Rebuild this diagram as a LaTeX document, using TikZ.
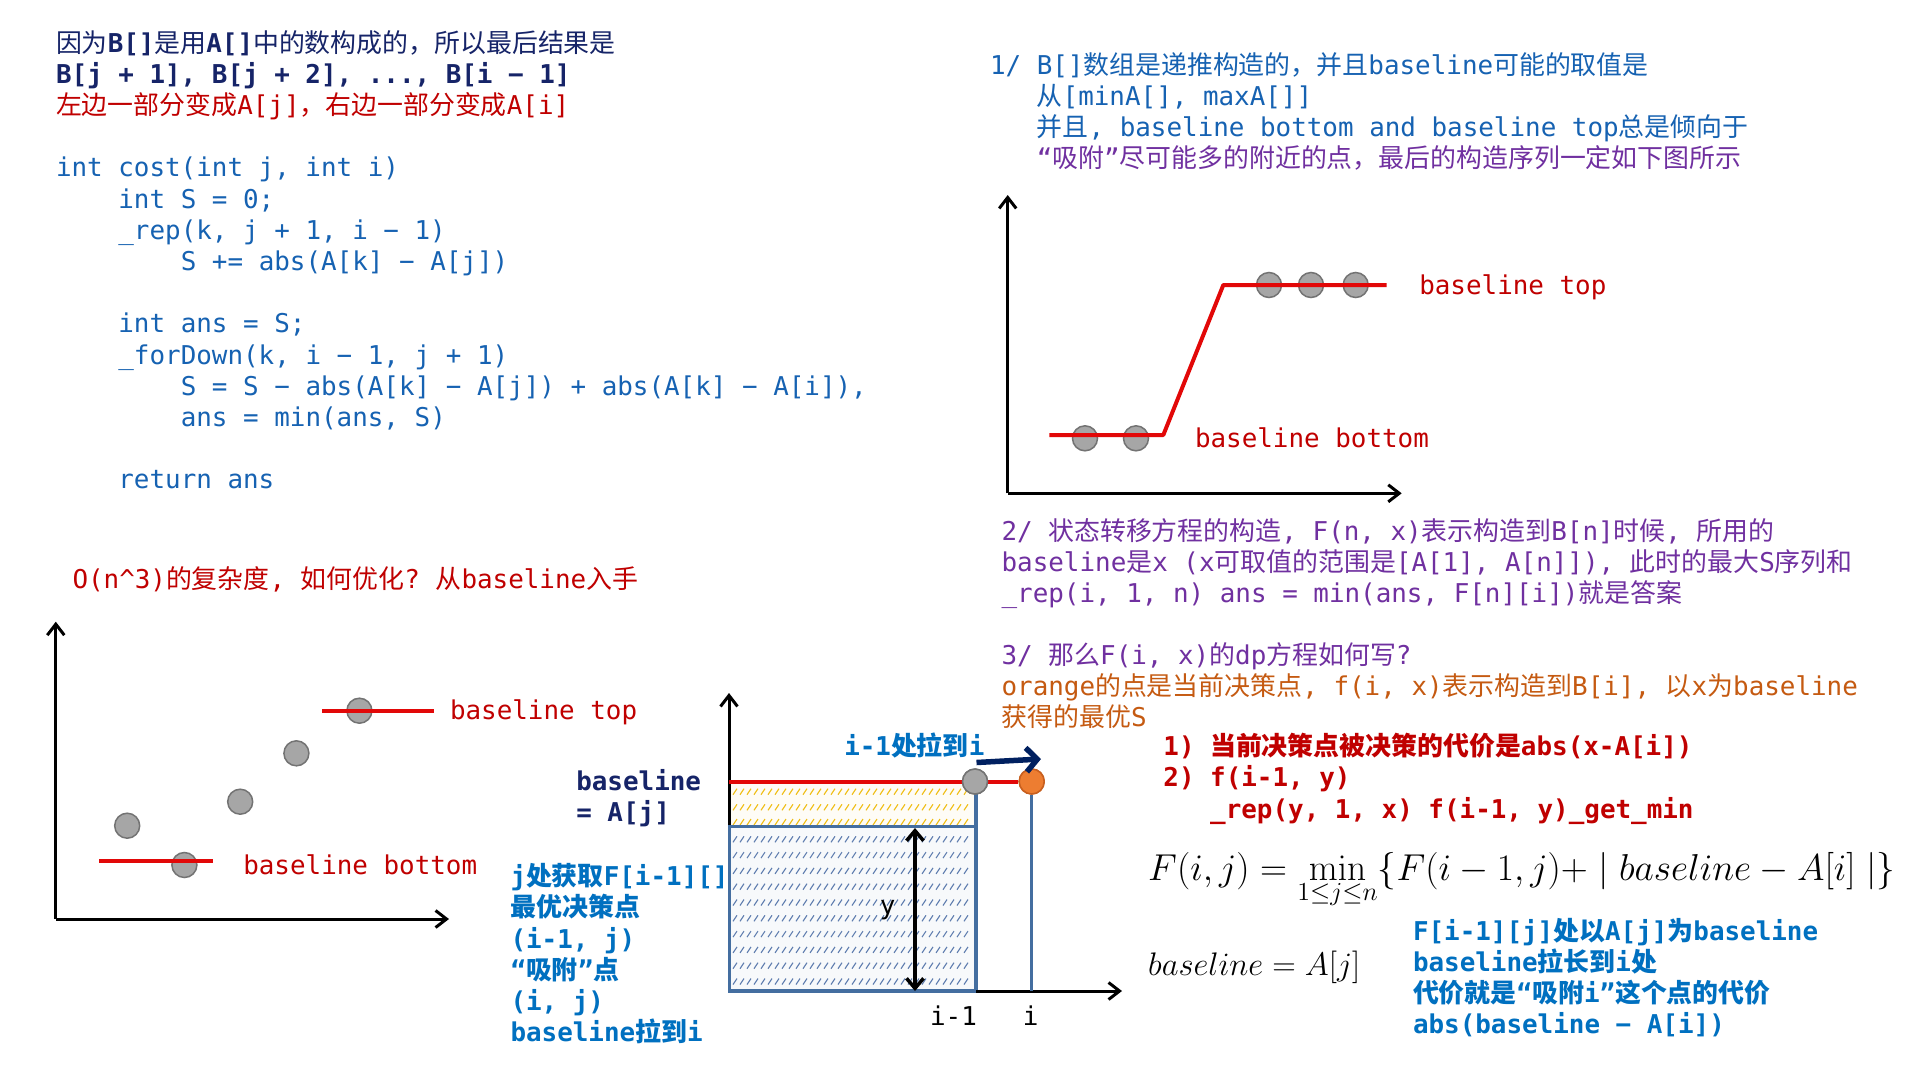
\documentclass[tikz,border=0pt]{standalone}
\usepackage[no-math]{fontspec}
\usepackage{graphicx}
\usetikzlibrary{arrows.meta}
\setmainfont{DejaVu Sans Mono}
\newfontfamily\cjk{Noto Sans CJK SC}
\newcommand\zh[1]{{\cjk #1}}
\newcommand\zhr[1]{{\cjk\mdseries #1}}
\definecolor{navy}{RGB}{22,36,104}
\definecolor{codeblue}{RGB}{22,98,178}
\definecolor{redt}{RGB}{192,0,0}
\definecolor{redl}{RGB}{226,8,8}
\definecolor{purp}{RGB}{112,48,160}
\definecolor{orng}{RGB}{197,90,17}
\definecolor{brblue}{RGB}{0,112,192}
\definecolor{boxblue}{RGB}{68,110,160}
\definecolor{hatchb}{RGB}{95,125,175}
\definecolor{hatchy}{RGB}{240,190,20}
\definecolor{dotgray}{RGB}{166,166,166}
\definecolor{dotedge}{RGB}{115,115,115}
\definecolor{dotorange}{RGB}{237,125,49}
\definecolor{dotoedge}{RGB}{200,95,30}
\definecolor{arrnavy}{RGB}{0,32,96}
\begin{document}
\begin{tikzpicture}[x=1pt,y=-1pt,
  t/.style={anchor=base west,inner sep=0pt,outer sep=0pt,font=\fontsize{25.9}{31.2}\selectfont\frenchspacing},
  tb/.style={t,font=\fontsize{25.9}{31.2}\selectfont\frenchspacing\bfseries},
  axis/.style={line width=3pt,black,-{Straight Barb[length=11pt,width=17pt]}},
  redline/.style={line width=4pt,redl},
  gdot/.style={circle,fill=dotgray,draw=dotedge,line width=1.5pt,minimum size=25pt,inner sep=0pt},
  odot/.style={circle,fill=dotorange,draw=dotoedge,line width=1.5pt,minimum size=25pt,inner sep=0pt},
  hb/.style={hatchb,line width=1.1pt},
  hy/.style={hatchy,line width=1.1pt}]
\fill[white] (0,0) rectangle (1920,1080);
\useasboundingbox (0,0) rectangle (1920,1080);

% ---------- top-left block ----------
\node[tb,text=navy] (tl1) at (56,52) {\zhr{因为}B[]\zhr{是用}A[]\zhr{中的数构成的，所以最后结果是}};
\node[tb,text=navy] (tl2) at (56,83.2) {B[j + 1], B[j + 2], ..., B[i − 1]};
\node[t,text=redt] (tl3) at (56,114.4) {\zh{左边一部分变成}A[j]\zh{，右边一部分变成}A[i]};
\node[t,text=codeblue] (c1) at (56,176.8) {int cost(int j, int i)};
\node[t,text=codeblue] (c2) at (118.4,208) {int S = 0;};
\node[t,text=codeblue] (c3) at (118.4,239.2) {\_rep(k, j + 1, i − 1)};
\node[t,text=codeblue] (c4) at (180.8,270.4) {S += abs(A[k] − A[j])};
\node[t,text=codeblue] (c5) at (118.4,332.8) {int ans = S;};
\node[t,text=codeblue] (c6) at (118.4,364) {\_forDown(k, i − 1, j + 1)};
\node[t,text=codeblue] (c7) at (180.8,395.2) {S = S − abs(A[k] − A[j]) + abs(A[k] − A[i]),};
\node[t,text=codeblue] (c8) at (180.8,426.4) {ans = min(ans, S)};
\node[t,text=codeblue] (c9) at (118.4,488.8) {return ans};

% ---------- top-right block ----------
\node[t,text=codeblue] (tr1) at (990,74) {1/ B[]\zh{数组是递推构造的，并且}baseline\zh{可能的取值是}};
\node[t,text=codeblue] (tr2) at (1036.8,105) {\zh{从}[minA[], maxA[]]};
\node[t,text=codeblue] (tr3) at (1036.8,136) {\zh{并且}, baseline bottom and baseline top\zh{总是倾向于}};
\node[t,text=purp] (tr4) at (1036.8,167) {“\zh{吸附}”\zh{尽可能多的附近的点，最后的构造序列一定如下图所示}};

% ---------- top-right graph ----------
\coordinate (ro) at (1007.7,493.3);
\coordinate (ry) at (1007.7,195);
\coordinate (rx) at (1401.7,493.3);
\draw[axis] (ro) -- (ry);
\draw[axis] (ro) -- (rx);
\node[gdot] (rd1) at (1085,438.3) {};
\node[gdot] (rd2) at (1136,438.3) {};
\node[gdot] (rd3) at (1269,285) {};
\node[gdot] (rd4) at (1311,285) {};
\node[gdot] (rd5) at (1355.7,285) {};
\draw[redline,line join=round] (1049.3,435) -- (1163.3,435) -- (1223.3,285) -- (1386.7,285);
\node[t,text=redt] (rtop) at (1419.3,294) {baseline top};
\node[t,text=redt] (rbot) at (1195,447) {baseline bottom};

% ---------- middle-right block ----------
\node[t,text=purp] (m1) at (1001.6,540.5) {2/ \zh{状态转移方程的构造}, F(n, x)\zh{表示构造到}B[n]\zh{时候}, \zh{所用的}};
\node[t,text=purp] (m2) at (1001.6,571.3) {baseline\zh{是}x (x\zh{可取值的范围是}[A[1], A[n]]), \zh{此时的最大}S\zh{序列和}};
\node[t,text=purp] (m3) at (1001.6,602.2) {\_rep(i, 1, n) ans = min(ans, F[n][i])\zh{就是答案}};
\node[t,text=purp] (m4) at (1001.6,664.2) {3/ \zh{那么}F(i, x)\zh{的}dp\zh{方程如何写}?};
\node[t,text=orng] (m5) at (1001.6,695) {orange\zh{的点是当前决策点}, f(i, x)\zh{表示构造到}B[i], \zh{以}x\zh{为}baseline};
\node[t,text=orng] (m6) at (1001.6,726) {\zh{获得的最优}S};

\node[tb,text=redt] (r1) at (1163.4,755.5) {1) \zh{当前决策点被决策的代价是}abs(x-A[i])};
\node[tb,text=redt] (r2) at (1163.4,786.7) {2) f(i-1, y)};
\node[tb,text=redt] (r3) at (1210.2,818) {\_rep(y, 1, x) f(i-1, y)\_get\_min};

\node[anchor=base west,inner sep=0pt,font=\fontsize{20}{24}\selectfont] (f1) at (1148,880)
  {\resizebox{747pt}{!}{$\displaystyle F(i,j)=\min_{1\le j\le n}\{F(i-1,j)+\mid baseline-A[i]\mid\}$}};
\node[anchor=base west,inner sep=0pt,font=\fontsize{20}{24}\selectfont] (f2) at (1148,975)
  {\resizebox{212pt}{!}{$baseline=A[j]$}};

\node[tb,text=brblue] (b1) at (1413,940.5) {F[i-1][j]\zh{处以}A[j]\zh{为}baseline};
\node[tb,text=brblue] (b2) at (1413,971.5) {baseline\zh{拉长到}i\zh{处}};
\node[tb,text=brblue] (b3) at (1413,1002.5) {\zh{代价就是}“\zh{吸附}i”\zh{这个点的代价}};
\node[tb,text=brblue] (b4) at (1413,1033.5) {abs(baseline − A[i])};

% ---------- left middle ----------
\node[t,text=redt] (on3) at (72.5,588) {O(n\textasciicircum 3)\zh{的复杂度}, \zh{如何优化}? \zh{从}baseline\zh{入手}};

\coordinate (lo) at (55.8,919);
\coordinate (ly) at (55.8,621.7);
\coordinate (lx) at (449,919);
\draw[axis] (lo) -- (ly);
\draw[axis] (lo) -- (lx);
\node[gdot] (ld1) at (127.2,825.7) {};
\node[gdot] (ld2) at (184.4,865) {};
\node[gdot] (ld3) at (240.2,801.7) {};
\node[gdot] (ld4) at (296.4,753.3) {};
\node[gdot] (ld5) at (359.4,710.7) {};
\draw[redline] (99.1,860.7) -- (213,860.7);
\draw[redline] (322.3,710.7) -- (434.4,710.7);
\node[t,text=redt] (ltop) at (450,719.5) {baseline top};
\node[t,text=redt] (lbot) at (243.3,874) {baseline bottom};

% ---------- bottom-left blue text ----------
\node[tb,text=brblue] (j1) at (510.5,885.7) {j\zh{处获取}F[i-1][]};
\node[tb,text=brblue] (j2) at (510.5,916.9) {\zh{最优决策点}};
\node[tb,text=brblue] (j3) at (510.5,948.1) {(i-1, j)};
\node[tb,text=brblue] (j4) at (510.5,979.3) {“\zh{吸附}”\zh{点}};
\node[tb,text=brblue] (j5) at (510.5,1010.5) {(i, j)};
\node[tb,text=brblue] (j6) at (510.5,1041.7) {baseline\zh{拉到}i};

\node[tb,text=navy] (bl1) at (576.3,790.5) {baseline};
\node[tb,text=navy] (bl2) at (576.3,821) {= A[j]};

% ---------- bottom graph ----------
\fill[white!96!hatchy] (731,784) rectangle (974.5,825);
\fill[white!95!hatchb] (731,828) rectangle (974.5,990);
\foreach \yy in {791.7,807.3,822}{
  \foreach \xx in {733,740,...,968}{\draw[hy] (\xx,\yy+3) -- ++(4,-6);}}
\foreach \yy in {839.3,855.1,870.9,886.7,902.5,918.3,934.1,949.9,965.7,981.5}{
  \foreach \xx in {733,740,...,968}{\draw[hb] (\xx,\yy+3) -- ++(4,-6);}}
\coordinate (bo) at (729,826);
\coordinate (by) at (729,693);
\draw[axis] (bo) -- (by);
\draw[boxblue,line width=3.5pt] (729.5,826.5) rectangle (976,991);
\coordinate (br1) at (976,781.5);
\coordinate (br2) at (976,826.5);
\draw[boxblue,line width=3.5pt] (br1) -- (br2);
\coordinate (bx0) at (976,991);
\coordinate (bx) at (1122,991);
\draw[axis] (bx0) -- (bx);
\coordinate (red0) at (729,781.5);
\node[gdot] (gd) at (975,781.5) {};
\node[odot] (od) at (1031.7,781.5) {};
\coordinate (odb) at (1031.7,991);
\draw[boxblue,line width=3pt] (od.south) -- (odb);
\draw[redline] (red0) -- (gd.west);
\draw[redline] (gd.east) -- (od.west);
\node[gdot] at (gd) {};
\node[odot] at (od) {};
\coordinate (ya) at (915,828);
\coordinate (yb) at (915,991);
\draw[line width=3.5pt,black,{Straight Barb[length=10pt,width=17pt]}-{Straight Barb[length=10pt,width=17pt]}] (ya) -- (yb);
\node[font=\fontsize{25.9}{31.2}\selectfont,inner sep=0pt] (ylab) at (887.6,910) {y};
\node[font=\fontsize{25.9}{31.2}\selectfont,inner sep=0pt] (im1) at (953.5,1016) {i-1};
\node[font=\fontsize{25.9}{31.2}\selectfont,inner sep=0pt] (ii) at (1030.7,1016) {i};
\node[tb,text=brblue] (pull) at (844.3,755.5) {i-1\zh{处拉到}i};
\coordinate (na) at (976.5,762.5);
\coordinate (nb) at (1041,759);
\draw[arrnavy,line width=5.5pt,-{Straight Barb[length=11pt,width=24pt]}] (na) -- (nb);
\end{tikzpicture}
\end{document}
